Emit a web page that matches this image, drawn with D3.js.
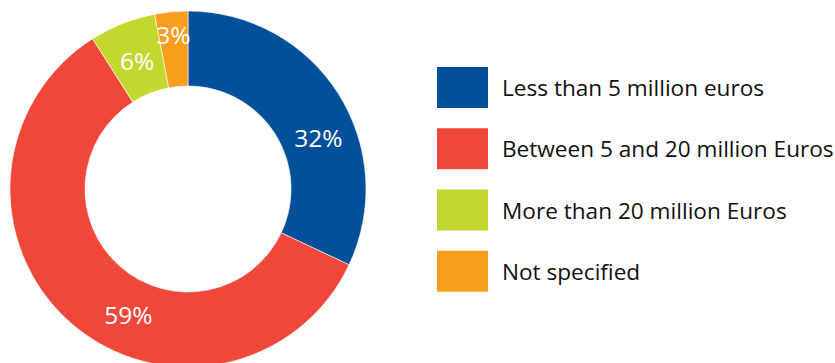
<!doctype html>
<html>
<head>
<meta charset="utf-8">
<title>Company turnover</title>
<style>
  body { margin: 0; background: #fff; }
  svg text { font-family: "Open Sans", sans-serif; }
</style>
<script src="https://d3js.org/d3.v7.min.js"></script>
</head>
<body>
<svg width="835" height="363"></svg>
<script>
// data
var categories = ["Less than 5 million euros", "Between 5 and 20 million Euros",
                  "More than 20 million Euros", "Not specified"];
var values = [32, 59, 6, 3];
var colors = ["#03509a", "#ef473a", "#c2d82f", "#f99d1c"];

// where inside each slice the label sits (fraction of slice angle, radius)
var labelAngle = [0.595, 0.424, 0.5, 0.5];
var labelRadius = [140, 140, 138, 155];

var svg = d3.select("svg");
var cx = 188, cy = 189, outer = 178, inner = 103;

var g = svg.append("g").attr("transform", "translate(" + cx + "," + cy + ")");

var pie = d3.pie().sort(null).value(function(d) { return d; });
var arcs = pie(values);

var arc = d3.arc().innerRadius(inner).outerRadius(outer);

g.selectAll("path")
  .data(arcs)
  .enter().append("path")
  .attr("d", arc)
  .attr("fill", function(d, i) { return colors[i]; })
  .attr("stroke", "#fff")
  .attr("stroke-width", 0.6);

g.selectAll(".lbl")
  .data(arcs)
  .enter().append("text")
  .attr("class", "lbl")
  .attr("x", function(d, i) {
      var a = d.startAngle + (d.endAngle - d.startAngle) * labelAngle[i];
      return labelRadius[i] * Math.sin(a);
  })
  .attr("y", function(d, i) {
      var a = d.startAngle + (d.endAngle - d.startAngle) * labelAngle[i];
      return -labelRadius[i] * Math.cos(a);
  })
  .attr("dy", "0.36em")
  .attr("text-anchor", "middle")
  .attr("fill", "#fff")
  .style("font-size", "24.5px")
  .text(function(d) { return d.data + "%"; });

// legend
var legend = d3.scaleBand().domain(d3.range(categories.length)).range([67, 312]);

var item = svg.selectAll(".leg")
  .data(categories)
  .enter().append("g")
  .attr("class", "leg")
  .attr("transform", function(d, i) { return "translate(437," + legend(i) + ")"; });

item.append("rect")
  .attr("width", 51)
  .attr("height", 41)
  .attr("fill", function(d, i) { return colors[i]; });

item.append("text")
  .attr("x", 65)
  .attr("y", 29)
  .attr("fill", "#111")
  .style("font-size", "22.6px")
  .text(function(d) { return d; });
</script>
</body>
</html>
